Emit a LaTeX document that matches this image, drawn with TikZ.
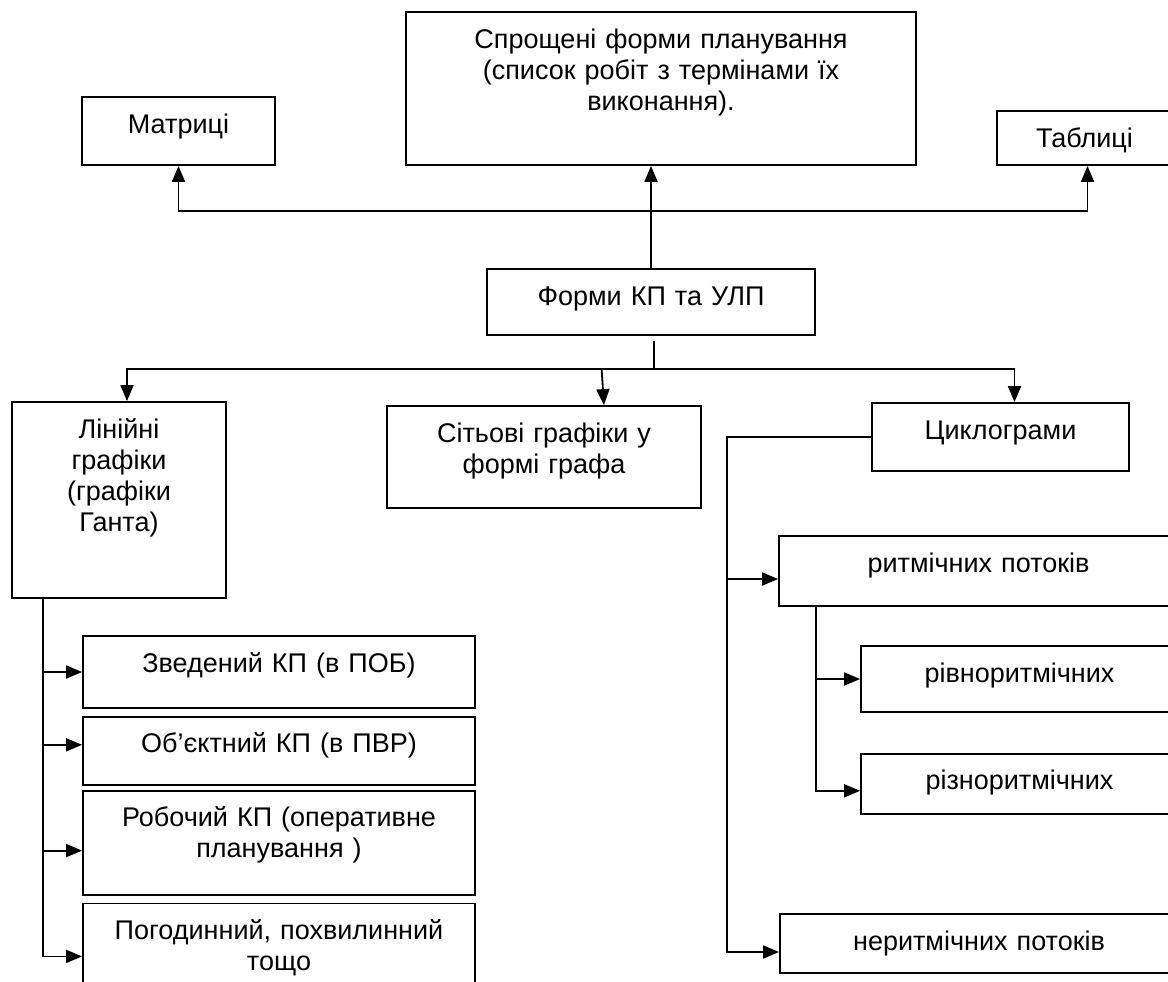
\documentclass[tikz,border=0pt]{standalone}
\usepackage{fontspec}
\setmainfont{Liberation Sans}
\usetikzlibrary{positioning,arrows.meta}

\begin{document}
\begin{tikzpicture}[
  x=0.5pt, y=-0.5pt,
  node distance=3.5pt,
  box/.style={draw, line width=0.9pt, align=center, inner sep=0pt, text height=18pt, font=\fontsize{13.5}{15.5}\selectfont},
  ln/.style={line width=0.9pt},
  arr/.style={ln, -{Triangle[length=8pt,width=6.5pt]}}
]
\useasboundingbox (0,0) rectangle (1168,981);
\clip (0,0) rectangle (1168,981);

\node[box, text width=255pt, text depth=58.5pt] (simpl) at (661,88.5) {Спрощені форми планування\\(список робіт з термінами їх\\виконання).};
\node[box, text width=96.5pt, text depth=16pt] (matr) at (178.5,131) {Матриці};
\node[box, text width=87.5pt, text depth=9pt] (tabl) at (1084.5,138) {Таблиці};
\node[box, text width=164pt, text depth=15pt] (form) at (651,302) {Форми КП та УЛП};

\node[box, text width=107pt, text depth=80pt] (lin) at (119,500) {Лінійні\\графіки\\(графіки\\Ганта)};
\node[box, text width=157pt, text depth=33pt] (sit) at (544,457) {Сітьові графіки у\\формі графа};
\node[box, text width=128.5pt, text depth=16pt] (cycl) at (1000.5,437) {Циклограми};

\node[box, text width=196pt, text depth=18pt] (zved) at (279,672) {Зведений КП (в ПОБ)};
\node[box, text width=196pt, text depth=16pt, below=of zved] (obj) {Об’єктний КП (в ПВР)};
\node[box, text width=196pt, text depth=34pt, below=2pt of obj] (rob) {Робочий КП (оперативне\\планування )};
\node[box, text width=196pt, text depth=38pt, below=of rob] (pogod) {Погодинний, похвилинний\\тощо};

\node[box, text width=199.5pt, text depth=17pt] (rytm) at (978.5,571) {ритмічних потоків};
\node[box, text width=158.5pt, text depth=15pt] (rivn) at (1019.5,679) {рівноритмічних};
\node[box, text width=158.5pt, text depth=12pt, below=20pt of rivn] (rizn) {різноритмічних};
\node[box, text width=199pt, text depth=11.5pt] (neryt) at (979,943.5) {неритмічних потоків};

\coordinate (tbus) at (651,211);
\coordinate (bbus) at (654,369);
\coordinate (lsp) at (43,0);
\coordinate (rsp) at (727,0);
\coordinate (isp) at (816,0);

\draw[arr] (form.north) -- (simpl.south -| form.north);
\draw[arr] (tbus) -| (matr.south);
\draw[arr] (tbus) -| ([xshift=1.5pt]tabl.south);

\draw[ln] ([yshift=-2.5pt]form.south -| bbus) -- (bbus);
\draw[arr] (bbus) -| ([xshift=4pt]lin.north);
\draw[arr] ([xshift=28.8pt]sit.north |- bbus) -- ([xshift=30pt]sit.north);
\draw[arr] (bbus) -| ([xshift=7pt]cycl.north);

\draw[arr] (lin.south -| lsp) |- (zved.west);
\draw[arr] (lin.south -| lsp) |- ([yshift=3pt]obj.west);
\draw[arr] (lin.south -| lsp) |- ([yshift=-4pt]rob.west);
\draw[arr] (lin.south -| lsp) |- ([yshift=1.5pt]pogod.west);

\draw[arr] (cycl.west) -- (cycl.west -| rsp) |- ([yshift=-4.25pt]neryt.west);
\draw[arr] ([yshift=-4pt]rytm.west -| rsp) -- ([yshift=-4pt]rytm.west);
\draw[arr] (rytm.south -| isp) |- (rivn.west);
\draw[arr] (rytm.south -| isp) |- ([yshift=-3.5pt]rizn.west);
\end{tikzpicture}
\end{document}
